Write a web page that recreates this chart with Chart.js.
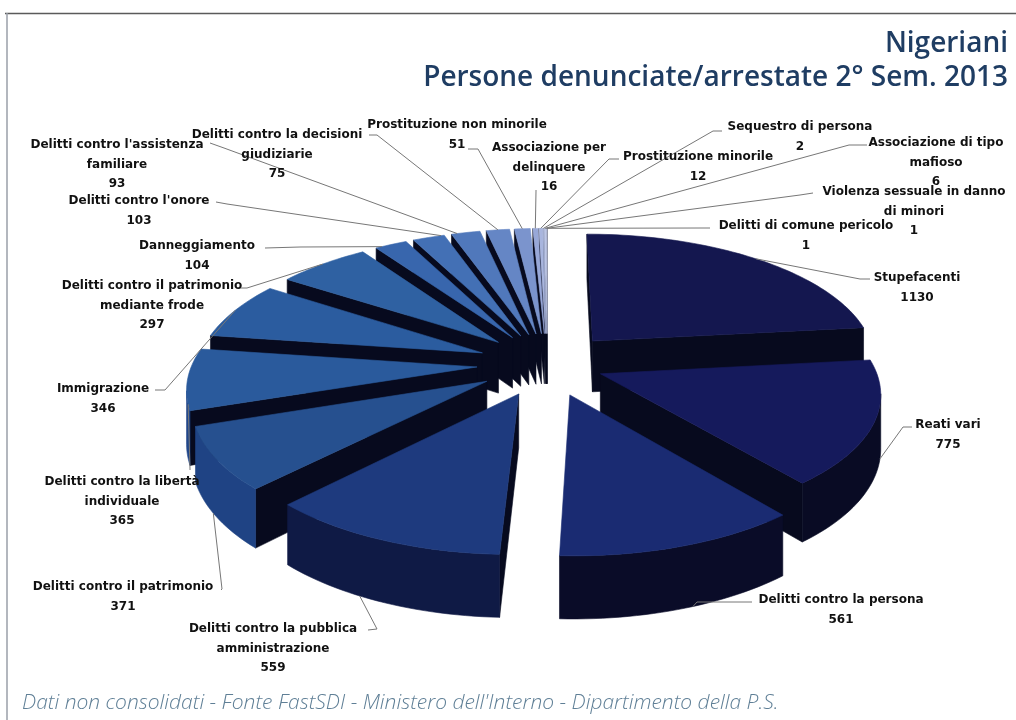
<!DOCTYPE html>
<html>
<head>
<meta charset="utf-8">
<title>Nigeriani</title>
<script src="https://cdn.jsdelivr.net/npm/chart.js@4"></script>
<style>
  html, body { margin: 0; background: #fff; }
  canvas { display: block; }
</style>
</head>
<body>
<canvas id="pieChart" width="1016" height="720"></canvas>
<script>
var categories = [
  'Stupefacenti', 'Reati vari', 'Delitti contro la persona',
  'Delitti contro la pubblica\namministrazione', 'Delitti contro il patrimonio',
  'Delitti contro la libertà\nindividuale', 'Immigrazione',
  'Delitti contro il patrimonio\nmediante frode', 'Danneggiamento',
  "Delitti contro l'onore", "Delitti contro l'assistenza\nfamiliare",
  'Delitti contro la decisioni\ngiudiziarie', 'Prostituzione non minorile',
  'Associazione per\ndelinquere', 'Prostituzione minorile', 'Sequestro di persona',
  'Associazione di tipo\nmafioso', 'Violenza sessuale in danno\ndi minori',
  'Delitti di comune pericolo'
]
var values = [1130, 775, 561, 559, 371, 365, 346, 297, 104, 103, 93, 75, 51, 16, 12, 2, 6, 1, 1]

var topColours = [
  '#14174f', '#151a5c', '#1a2b72', '#1e3a7e', '#26508f', '#2a5a9c', '#2b5c9f', '#2f61a2',
  '#3866ad', '#4370b5', '#5078bb', '#6586c5', '#7b94cd', '#98a8d8', '#a8b5de', '#b4bfe2',
  '#bcc6e6', '#c4cdea', '#ccd4ee'
]
var sideColours = [
  '#08081f', '#090b24', '#0a0c28', '#0f1a45', '#1f4384', '#21478a', '#234a8c', '#264f90',
  '#2a5598', '#305ca0', '#3a64a8', '#4a70b0', '#5a7cb8', '#6a88c0', '#7490c4', '#7c96c8',
  '#849ccc', '#8ca2d0', '#94a8d4'
]
var cutColour = '#070a1e'

// explosion of each slice, and the one slice that sits a bit tighter than the rest
var sliceOffset = [70, 57, 70, 70, 70, 70, 70, 70, 70, 70, 70, 70, 70, 70, 70, 70, 70, 70, 70]
var rimScale = [1, 0.96, 1, 1, 1, 1, 1, 1, 1, 1, 1, 1, 1, 1, 1, 1, 1, 1, 1]

// label text position: centre x, first baseline y
var labelPos = [
  [917, 281], [948, 428], [841, 603], [273, 632], [123, 590], [122, 485], [103, 392], [152, 289],
  [197, 249], [139, 204], [117, 148], [277, 138], [457, 128], [549, 151], [698, 160], [800, 130],
  [936, 146], [914, 195], [806, 229]
]
// elbow of the leader line next to the label
var labelElbow = [
  [[870, 279], [860, 279]], [[912, 427], [903, 427]], [[752, 602], [697, 602]], [[368, 630], [377, 629]],
  [[221, 590], [222, 589]], [[190, 470], [190, 469]], [[155, 390], [165, 390]], [[238, 288], [247, 288]],
  [[265, 248], [300, 247]], [[216, 202], [227, 204]], [[210, 143], [224, 148]], [[369, 135], [377, 135]],
  [[468, 149], [478, 149]], [[536, 190], [536, 191]], [[619, 159], [609, 159]], [[722, 131], [713, 131]],
  [[867, 145], [849, 145]], [[813, 193], [800, 195]], [[710, 228], [700, 228]]
]
// where on the rim each leader lands: fraction of the slice, and whether it goes to the lower edge
var leaderFrac = [0.5, 0.35, 0.45, 0.6, 0.55, 0.1, 0.5, 0.5, 0.2, 0.9, 0.2, 0.5, 0.5, 0.5, 0.5, 0.5, 0.5, 0.5, 0.5]
var leaderLow = [false, true, true, true, true, false, false, false, false, false, false, false, false, false, false, false, false, false, false]

var pieX = 547
var pieY = 364
var squash = 0.45
var focal = 2000
var thickness = 52

function project(x, y, z) {
  var s = focal / (focal - y)
  return { x: pieX + x * s, y: pieY + squash * y * s + z * s }
}

function rimPoint(arc, angle, r, z) {
  var mid = (arc.startAngle + arc.endAngle) / 2
  var off = arc.options.offset
  return project(off * Math.cos(mid) + r * Math.cos(angle), off * Math.sin(mid) + r * Math.sin(angle), z)
}

function fillPoly(ctx, pts, colour) {
  ctx.beginPath()
  ctx.moveTo(pts[0].x, pts[0].y)
  for (let p of pts) ctx.lineTo(p.x, p.y)
  ctx.closePath()
  ctx.fillStyle = colour
  ctx.strokeStyle = colour
  ctx.lineWidth = 0.6
  ctx.fill()
  ctx.stroke()
}

// a wall hanging below edge a-b shows only if the inside point is on the far side of the edge
function wallVisible(a, b, inside) {
  var dx = b.x - a.x
  var dy = b.y - a.y
  return (dx * (inside.y - a.y) - dy * (inside.x - a.x)) * dx < 0
}

function drawSlice(ctx, arc, i) {
  var r = arc.outerRadius * rimScale[i]
  var mid = (arc.startAngle + arc.endAngle) / 2
  var steps = Math.max(2, Math.ceil((arc.endAngle - arc.startAngle) * 40))
  var tip = rimPoint(arc, 0, 0, 0)
  var tipLow = rimPoint(arc, 0, 0, thickness)
  var inside = rimPoint(arc, mid, r * 0.6, 0)
  var topRim = []
  var lowRim = []
  for (let k = 0; k <= steps; k++) {
    let a = arc.startAngle + (arc.endAngle - arc.startAngle) * k / steps
    topRim.push(rimPoint(arc, a, r, 0))
    lowRim.push(rimPoint(arc, a, r, thickness))
  }
  var first = topRim[0]
  var last = topRim[steps]
  if (wallVisible(tip, first, inside)) fillPoly(ctx, [tip, first, lowRim[0], tipLow], cutColour)
  if (wallVisible(tip, last, inside)) fillPoly(ctx, [tip, last, lowRim[steps], tipLow], cutColour)
  // rim wall as one polygon per visible run, quads leave seams
  var runTop = []
  var runLow = []
  for (let k = 0; k < steps; k++) {
    if (wallVisible(topRim[k], topRim[k + 1], tip)) {
      if (!runTop.length) {
        runTop.push(topRim[k])
        runLow.push(lowRim[k])
      }
      runTop.push(topRim[k + 1])
      runLow.push(lowRim[k + 1])
    } else if (runTop.length) {
      fillPoly(ctx, runTop.concat(runLow.slice().reverse()), sideColours[i])
      runTop = []
      runLow = []
    }
  }
  if (runTop.length) fillPoly(ctx, runTop.concat(runLow.slice().reverse()), sideColours[i])
  fillPoly(ctx, [tip].concat(topRim), arc.options.backgroundColor)
}

const pie3d = {
  id: 'pie3d',
  beforeDraw(chart) {
    var ctx = chart.ctx
    ctx.save()
    ctx.fillStyle = '#fff'
    ctx.fillRect(0, 0, chart.width, chart.height)
    ctx.strokeStyle = '#5a5a5a'
    ctx.lineWidth = 1.5
    ctx.beginPath()
    ctx.moveTo(5, 13.5)
    ctx.lineTo(1016, 13.5)
    ctx.stroke()
    ctx.strokeStyle = '#9a9fa8'
    ctx.beginPath()
    ctx.moveTo(7, 13)
    ctx.lineTo(7, 720)
    ctx.stroke()
    ctx.restore()
  },
  beforeDatasetsDraw(chart) {
    var ctx = chart.ctx
    var arcs = chart.getDatasetMeta(0).data
    var order = arcs.map(function(arc, i) { return i })
    function depth(i) {
      var mid = (arcs[i].startAngle + arcs[i].endAngle) / 2
      return Math.sin(mid)
    }
    order.sort(function(a, b) { return depth(a) - depth(b) })
    ctx.save()
    for (let i of order) drawSlice(ctx, arcs[i], i)
    ctx.restore()
    return false
  },
  afterDraw(chart) {
    var ctx = chart.ctx
    var arcs = chart.getDatasetMeta(0).data
    ctx.save()
    ctx.strokeStyle = '#777'
    ctx.lineWidth = 1
    arcs.forEach(function(arc, i) {
      var a = arc.startAngle + (arc.endAngle - arc.startAngle) * leaderFrac[i]
      var end = rimPoint(arc, a, arc.outerRadius * rimScale[i], leaderLow[i] ? thickness : 0)
      var elbow = labelElbow[i]
      ctx.beginPath()
      ctx.moveTo(elbow[0][0], elbow[0][1])
      ctx.lineTo(elbow[1][0], elbow[1][1])
      ctx.lineTo(end.x, end.y)
      ctx.stroke()
    })
    ctx.fillStyle = '#111'
    ctx.font = 'bold 12px "DejaVu Sans"'
    ctx.textAlign = 'center'
    ctx.textBaseline = 'alphabetic'
    categories.forEach(function(name, i) {
      var lines = name.split('\n').concat(String(values[i]))
      lines.forEach(function(line, n) {
        ctx.fillText(line, labelPos[i][0], labelPos[i][1] + n * 19.5)
      })
    })
    ctx.restore()
  }
}

new Chart(document.getElementById('pieChart'), {
  type: 'pie',
  data: {
    labels: categories,
    datasets: [{
      data: values,
      backgroundColor: topColours,
      borderWidth: 0,
      offset: sliceOffset,
      radius: 285
    }]
  },
  options: {
    responsive: false,
    animation: false,
    layout: { padding: { left: 22, right: 8, bottom: 4 } },
    plugins: {
      legend: { display: false },
      tooltip: { enabled: false },
      title: {
        display: true,
        align: 'end',
        text: ['Nigeriani', 'Persone denunciate/arrestate 2° Sem. 2013'],
        color: '#1f3d63',
        font: { family: '"Open Sans"', size: 28, weight: '600', lineHeight: 1.21 },
        padding: { top: 27, bottom: 0 }
      },
      subtitle: {
        display: true,
        position: 'bottom',
        align: 'start',
        text: "Dati non consolidati - Fonte FastSDI - Ministero dell'Interno - Dipartimento della P.S.",
        color: '#5f7f96',
        font: { family: '"Open Sans"', size: 21, style: 'italic', weight: '300' },
        padding: 0
      }
    }
  },
  plugins: [pie3d]
})
</script>
</body>
</html>
